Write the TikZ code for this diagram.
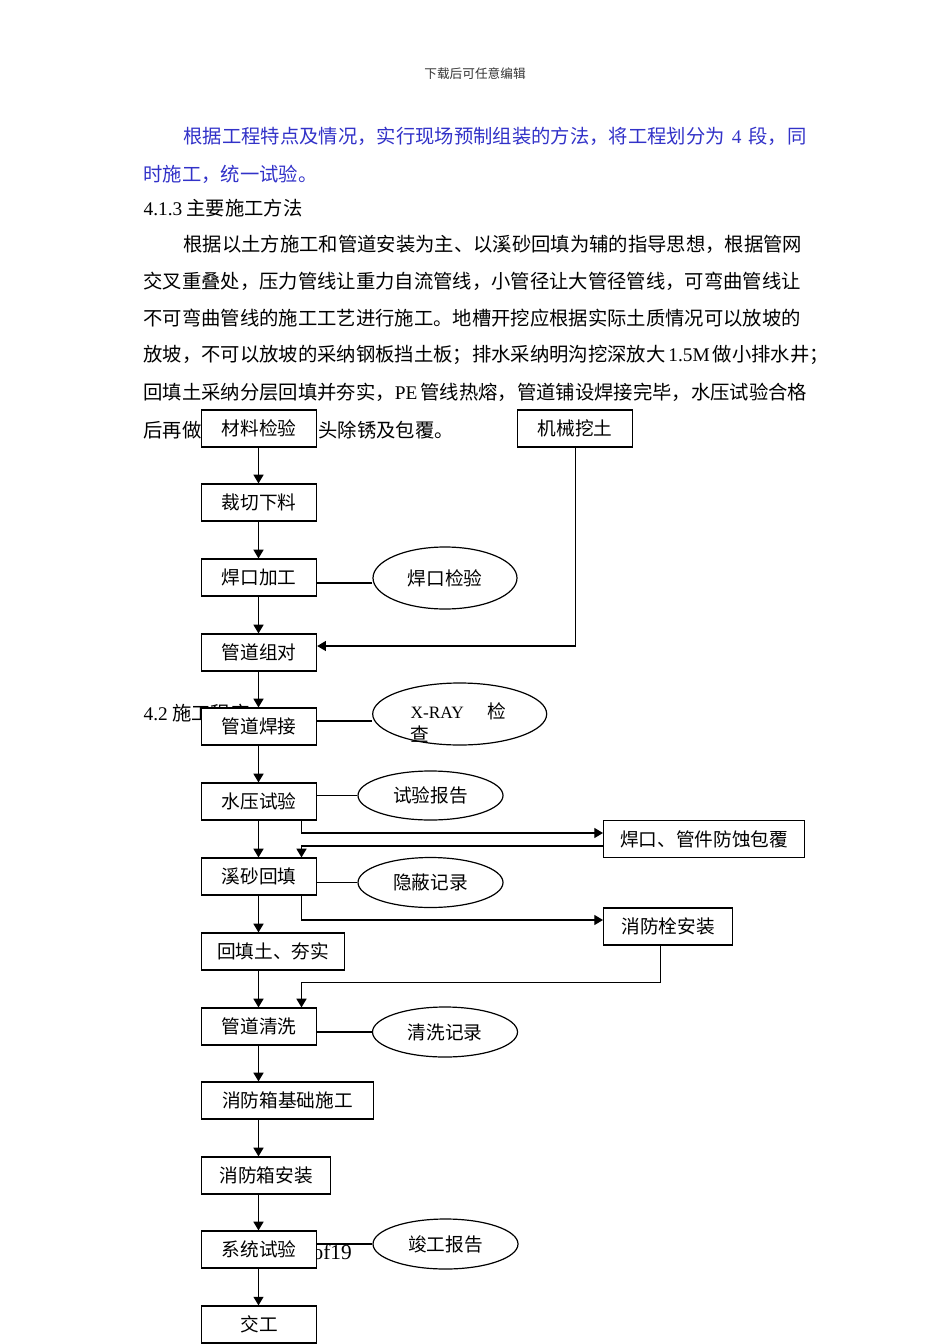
\documentclass[tikz,border=0pt]{standalone}
\usepackage{fontspec}
\setmainfont{Noto Sans CJK SC}
\newfontfamily\lat{Liberation Serif}
\usetikzlibrary{shapes.geometric,arrows.meta}
\XeTeXlinebreaklocale "zh"
\XeTeXlinebreakskip=0pt plus 2pt minus 0.6pt
\definecolor{textblue}{HTML}{3232C8}
\definecolor{headgray}{HTML}{333333}
\newcommand\bodyfont{\fontsize{14.5pt}{17pt}\selectfont}
\newcommand\boxfont{\fontsize{14pt}{17.25pt}\selectfont}
\newcommand\fitline[2]{\hbox to #1{#2}}

\begin{document}
\begin{tikzpicture}[x=0.75pt, y=-0.75pt, >={Triangle[length=6.5pt,width=7.5pt]}]
    \useasboundingbox (0,0) rectangle (950,1344);
    \begin{scope}[txt/.style={inner sep=0pt, anchor=west, font=\bodyfont},
                  stepbox/.style={draw, fill=white, anchor=west, inner sep=0pt, minimum width=86.25pt, minimum height=27.75pt, font=\boxfont},
                  note/.style={draw, fill=white, ellipse, inner sep=0pt, minimum width=108.75pt, minimum height=37.5pt, font=\boxfont},
                  line width=0.9pt]
        % page text
        \node[font=\fontsize{9.5pt}{11pt}\selectfont, text=headgray] (hd) at (475, 74) {下载后可任意编辑};
        \node[txt, text=textblue] (p1) at (183, 136) {\fitline{467.25pt}{根据工程特点及情况，实行现场预制组装的方法，将工程划分为 {\lat 4} 段，同}};
        \node[txt, text=textblue] (p2) at (143, 174) {时施工，统一试验。};
        \node[txt] (h413) at (143, 208) {{\lat 4.1.3} 主要施工方法};
        \node[txt] (b1) at (183, 244) {\fitline{466.5pt}{根据以土方施工和管道安装为主、以溪砂回填为辅的指导思想，根据管网}};
        \node[txt] (b2) at (143, 281) {\fitline{496.5pt}{交叉重叠处，压力管线让重力自流管线，小管径让大管径管线，可弯曲管线让}};
        \node[txt] (b3) at (143, 318) {\fitline{496.5pt}{不可弯曲管线的施工工艺进行施工。地槽开挖应根据实际土质情况可以放坡的}};
        \node[txt] (b4) at (143, 355) {\fitline{504pt}{放坡，不可以放坡的采纳钢板挡土板；排水采纳明沟挖深放大 {\lat 1.5M} 做小排水井；}};
        \node[txt] (b5) at (143, 392) {\fitline{496.5pt}{回填土采纳分层回填并夯实，{\lat PE} 管线热熔，管道铺设焊接完毕，水压试验合格}};
        \node[txt] (b6) at (143, 430) {后再做};
        \node[txt] (b7) at (318, 430) {头除锈及包覆。};
        \node[txt] (h42) at (143, 713) {{\lat 4.2} 施工程序};
        \node[inner sep=0pt, anchor=base west, font=\lat\fontsize{16pt}{18pt}\selectfont] (pg) at (312, 1259) {of19};
        % flow boxes
        \coordinate (col) at (258.5, 0);
        \coordinate (br) at (301.5, 0);
        \coordinate (j2) at (301.5, 982.5);
        \node[stepbox] (cl) at (201, 428.5) {材料检验};
        \node[stepbox] (jx) at (517, 428.5) {机械挖土};
        \node[stepbox] (cq) at (201, 502.5) {裁切下料};
        \node[stepbox] (hk) at (201, 577.5) {焊口加工};
        \node[note, minimum width=108pt, minimum height=46.5pt] (hkj) at (445, 578) {焊口检验};
        \node[stepbox] (zd) at (201, 652.5) {管道组对};
        \node[stepbox] (hj) at (201, 726.5) {管道焊接};
        \node[note, minimum width=130.5pt, minimum height=46.5pt] (xr) at (459.7, 714) {};
        \node[inner sep=0pt, anchor=west, align=left, font=\boxfont] (xrt) at (410, 722.5) {{\lat\fontsize{13pt}{17.25pt}\selectfont X-RAY}\hspace{18pt}检\\查};
        \node[stepbox] (sy) at (201, 801.5) {水压试验};
        \node[note, minimum height=36.75pt] (sb) at (430.5, 795.5) {试验报告};
        \node[stepbox, minimum width=150.75pt] (fh) at (603, 839) {焊口、管件防蚀包覆};
        \node[stepbox] (xs) at (201, 876.5) {溪砂回填};
        \node[note] (yb) at (430.5, 882.5) {隐蔽记录};
        \node[stepbox, minimum width=96.75pt] (xf) at (603, 926.5) {消防栓安装};
        \node[stepbox, minimum width=107.25pt] (ht) at (201, 951.5) {回填土、夯实};
        \node[stepbox] (qx) at (201, 1026.5) {管道清洗};
        \node[note] (qj) at (445, 1032) {清洗记录};
        \node[stepbox, minimum width=129pt] (jc) at (201, 1100.5) {消防箱基础施工};
        \node[stepbox, minimum width=96.75pt] (xa) at (201, 1175.5) {消防箱安装};
        \node[stepbox] (xt) at (201, 1249.5) {系统试验};
        \node[note] (jg) at (445.5, 1244) {竣工报告};
        \node[stepbox] (jgo) at (201, 1324.5) {交工};
        % main column
        \foreach \a/\b in {cl/cq, cq/hk, hk/zd, zd/hj, hj/sy, sy/xs, xs/ht, ht/qx, qx/jc, jc/xa, xa/xt, xt/jgo}
            \draw[->] (\a.south -| col) -- (\b.north -| col);
        % side branches
        \draw[->] (jx.south) |- ([yshift=4.875pt]zd.east);
        \draw[->] (sy.south -| br) |- ([yshift=4.5pt]fh.west);
        \draw[->] ([yshift=-5.25pt]fh.west) -| (xs.north -| br);
        \draw[->] (xs.south -| br) |- ([yshift=4.875pt]xf.west);
        \draw[->] ([xshift=-5.6pt]xf.south) |- (j2) -- (qx.north -| br);
        % records
        \draw ([yshift=-3.75pt]hkj.west) -- ([yshift=-3.75pt]hkj.west -| hk.east);
        \draw ([yshift=-5.25pt]xr.west) -- ([yshift=-5.25pt]xr.west -| hj.east);
        \draw (sb.west) -- (sb.west -| sy.east);
        \draw (yb.west) -- (yb.west -| xs.east);
        \draw (qj.west) -- (qj.west -| qx.east);
        \draw (jg.west) -- (jg.west -| xt.east);
    \end{scope}
\end{tikzpicture}
\end{document}
